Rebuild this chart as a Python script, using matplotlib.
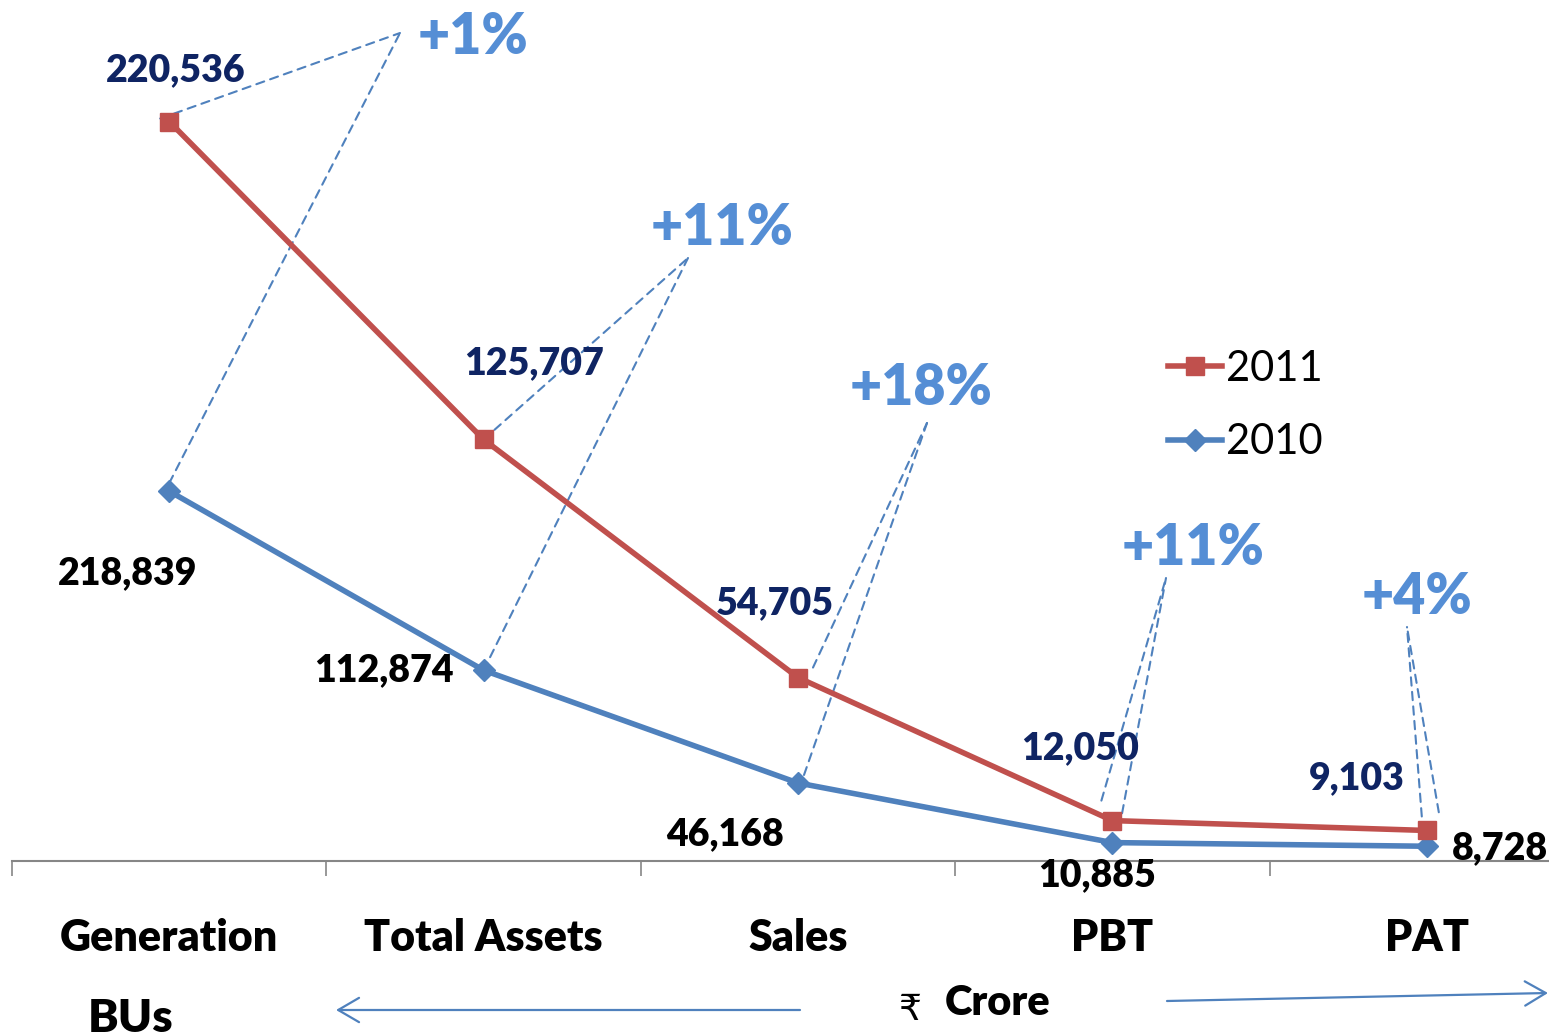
import matplotlib
matplotlib.use("Agg")
import matplotlib.pyplot as plt
from matplotlib.patches import FancyArrowPatch
from matplotlib.transforms import offset_copy

plt.rcParams["font.family"] = ["Lato", "DejaVu Sans"]

# Daten
kategorien = ["Generation", "Total Assets", "Sales", "PBT", "PAT"]
werte_2011 = [220536, 125707, 54705, 12050, 9103]
werte_2010 = [218839, 112874, 46168, 10885, 8728]
einheit_links = "BUs"
einheit_rechts = "Crore"

rot = "#C0504D"
blau = "#4F81BD"
hellblau = "#558ED5"
navy = "#0F2463"
dick = "heavy"

# Label-Versatz in Pixeln (dx, dy), y nach oben
versatz_2011 = [(6, 51), (50, 76), (-23, 74), (-32, 72), (-70, 52)]
versatz_2010 = [(-42, -82), (-100, 0), (-73, -51), (-15, -33), (73, -2)]

# Spitzen der gestrichelten Linien (Bildpixel, y von oben)
spitzen = [(400, 33), (688, 258), (927, 423), (1166, 578), (1407, 627)]
prozent_pos = [(473, 37), (722, 228), (921, 388), (1193, 548), (1417, 597)]
start_2011 = [(-9, 3), (0, 0), (15, 10), (-11, 20), (-5, 14)]
start_2010 = [(0, 8), (0, 0), (6, 8), (7, 15), (12, 34)]

W, H = 1549, 1036
fig = plt.figure(figsize=(W / 100, H / 100), dpi=100)

links, rechts = 12, 1584
oben, unten = 16, 861
ax = fig.add_axes([links / W, (H - unten) / H, (rechts - links) / W, (unten - oben) / H])
ax2 = ax.twinx()

x = list(range(len(kategorien)))

l2010, = ax.plot(x, werte_2010, color=blau, lw=4, marker="D", markersize=11,
                 label="2010", zorder=3)
l2011, = ax2.plot(x, werte_2011, color=rot, lw=4, marker="s", markersize=13,
                  label="2011", zorder=3)

ax.set_xlim(-0.5, len(kategorien) - 0.5)
ax.set_ylim(0, 500000)
ax2.set_ylim(0, 252000)

for a in (ax, ax2):
    for s in ("top", "left", "right"):
        a.spines[s].set_visible(False)
    a.set_yticks([])
ax2.spines["bottom"].set_visible(False)
ax.spines["bottom"].set_color("#868686")
ax.spines["bottom"].set_linewidth(1.5)

ax.set_xticks([i - 0.5 for i in range(len(kategorien))])
ax.set_xticklabels([])
ax.set_xticks(x, minor=True)
ax.set_xticklabels(kategorien, minor=True, fontsize=31, fontweight=dick)
ax.tick_params(axis="x", which="major", length=11, color="#868686", width=1.2)
ax.tick_params(axis="x", which="minor", length=0, pad=41)

# Wertebeschriftungen
for i in x:
    ax2.annotate(f"{werte_2011[i]:,}", (i, werte_2011[i]),
                 xytext=versatz_2011[i], textcoords="offset pixels",
                 ha="center", va="center", fontsize=27, fontweight=dick,
                 color=navy)
    ax.annotate(f"{werte_2010[i]:,}", (i, werte_2010[i]),
                xytext=versatz_2010[i], textcoords="offset pixels",
                ha="center", va="center", fontsize=27, fontweight=dick,
                color="black")

# gestrichelte Linien und Wachstum
for i in x:
    sx, sy = spitzen[i]
    for achse, werte, st in ((ax2, werte_2011, start_2011), (ax, werte_2010, start_2010)):
        tr = offset_copy(achse.transData, fig=fig, x=st[i][0], y=st[i][1], units="dots")
        ax.annotate("", xy=(sx, H - sy), xycoords="figure pixels",
                    xytext=(i, werte[i]), textcoords=tr,
                    arrowprops=dict(arrowstyle="-", color=blau, lw=1.5,
                                    linestyle=(0, (4, 3)), shrinkA=0, shrinkB=0),
                    zorder=2)
    wachstum = round((werte_2011[i] / werte_2010[i] - 1) * 100)
    px, py = prozent_pos[i]
    fig.text(px / W, 1 - py / H, f"+{wachstum}%", ha="center", va="center",
             fontsize=40, fontweight=dick, color=hellblau)

ax.legend(handles=[l2011, l2010], loc="upper left",
          bbox_to_anchor=(1168 / W, 1 - 350 / H), bbox_transform=fig.transFigure,
          frameon=False, fontsize=30, handlelength=1.3, handletextpad=0.1,
          labelspacing=0.85, borderpad=0, borderaxespad=0)

# untere Beschriftung
fig.text(131 / W, 1 - 1018 / H, einheit_links, ha="center", va="center",
         fontsize=33, fontweight=dick)
fig.text(910 / W, 1 - 1010 / H, "\u20b9", ha="center", va="center", fontsize=26,
         family=["DejaVu Sans"])
fig.text(998 / W, 1 - 1003 / H, einheit_rechts, ha="center", va="center",
         fontsize=30, fontweight=dick)

pfeil = dict(arrowstyle="->,head_length=0.6,head_width=0.35", color=blau, lw=1.6,
             mutation_scale=25, shrinkA=0, shrinkB=0, transform=None)
fig.add_artist(FancyArrowPatch((800, H - 1010), (336, H - 1010), **pfeil))
fig.add_artist(FancyArrowPatch((1167, H - 1001), (1548, H - 993), **pfeil))

fig.savefig("out.png", dpi=100)
